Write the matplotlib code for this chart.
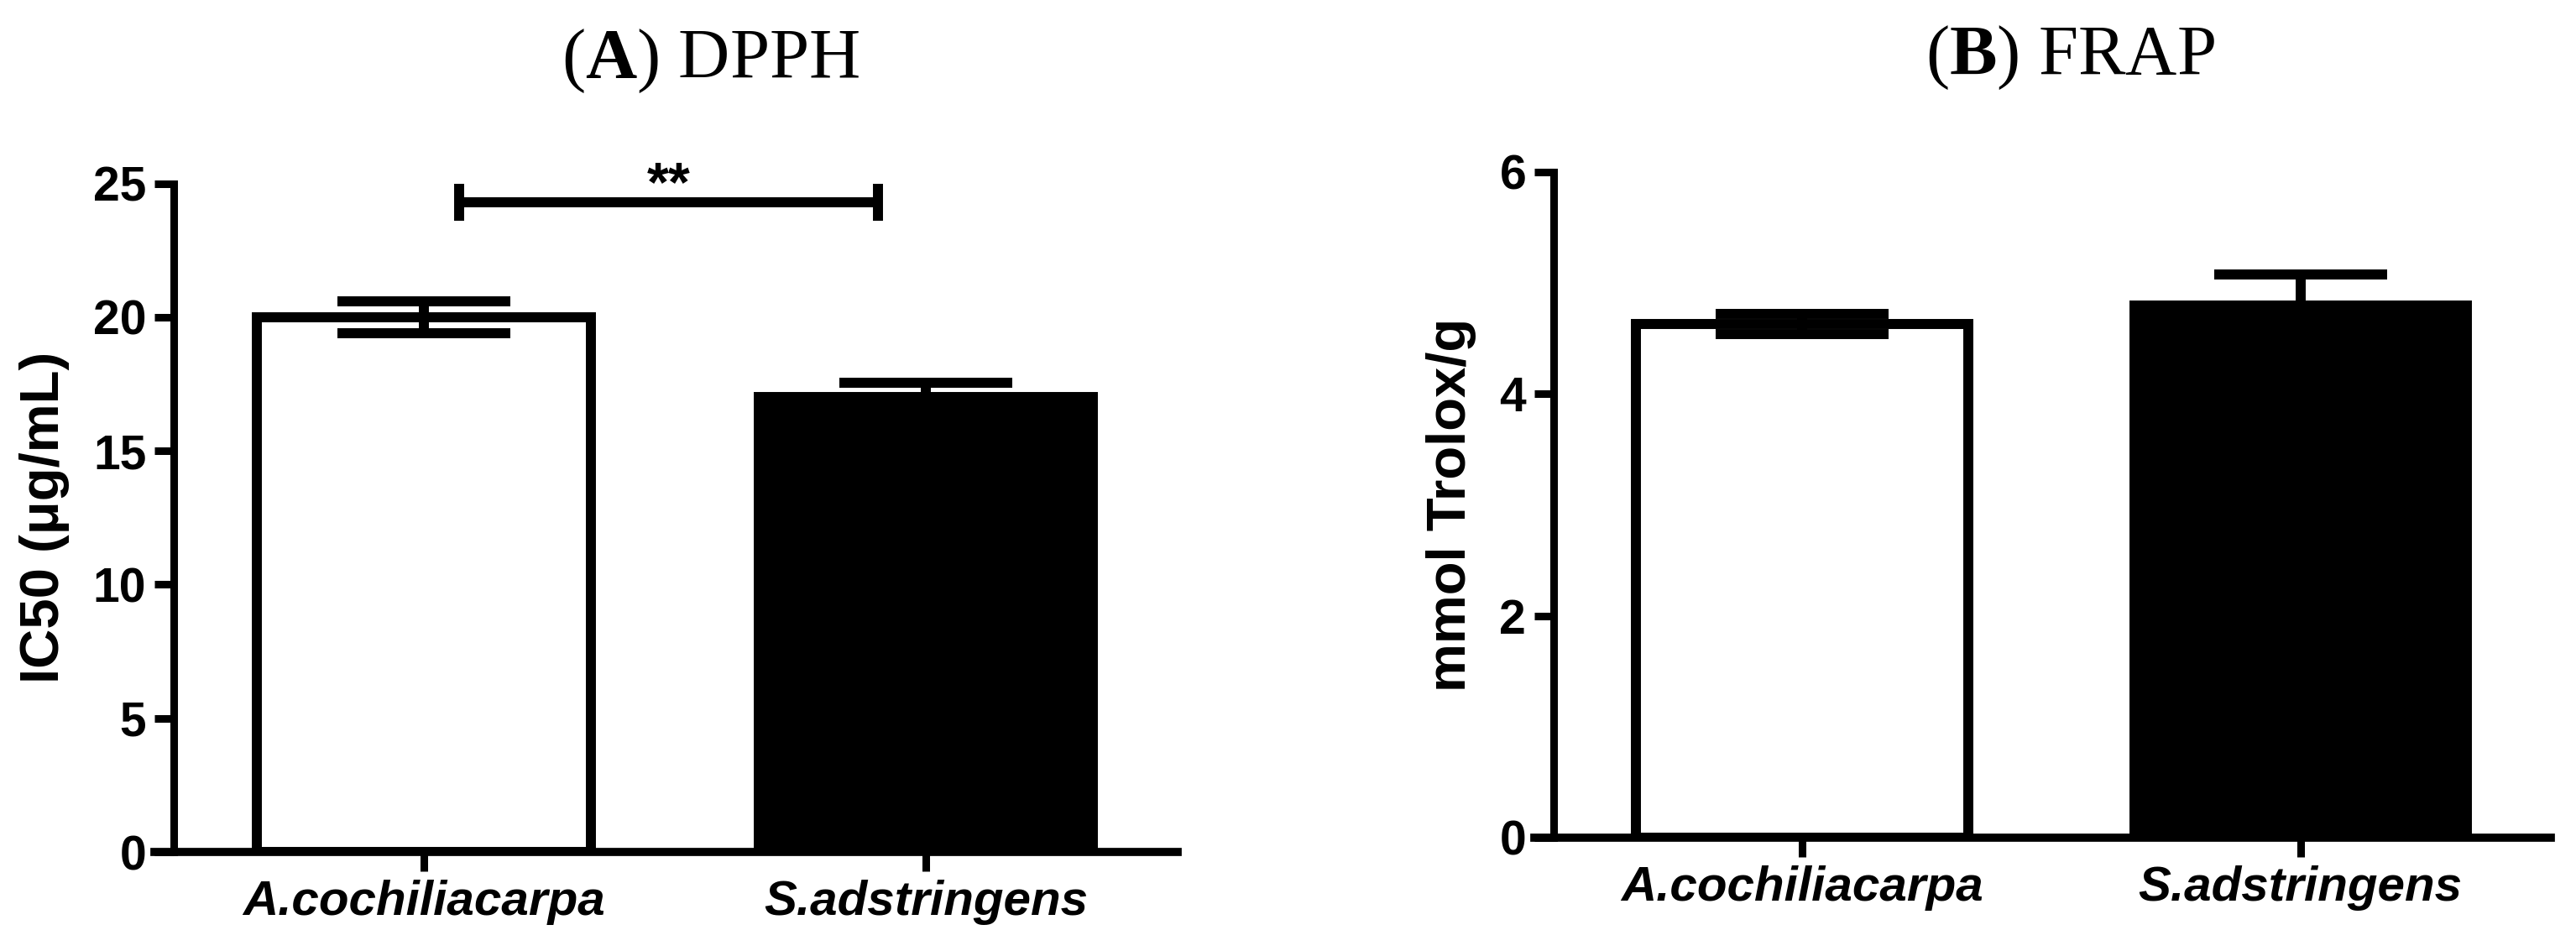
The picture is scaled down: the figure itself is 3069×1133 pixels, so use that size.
from matplotlib import pyplot as plt

# data
species = ["A.cochiliacarpa", "S.adstringens"]
bar_colors = ["white", "black"]

dpph_ic50 = [20.0, 17.0]
dpph_err = [0.6, 0.56]
dpph_ticks = [0, 5, 10, 15, 20, 25]

frap_trolox = [4.63, 4.80]
frap_err = [0.09, 0.28]
frap_ticks = [0, 2, 4, 6]

# significance bracket between the two DPPH bars
sig_x = [0.07, 0.905]
sig_y = 24.3
sig_text = "**"

plt.rcParams["font.family"] = ["Liberation Sans", "DejaVu Sans"]
plt.rcParams["font.weight"] = "bold"
plt.rcParams["axes.labelweight"] = "bold"
plt.rcParams["mathtext.fontset"] = "custom"
plt.rcParams["mathtext.rm"] = "Liberation Serif"
plt.rcParams["mathtext.bf"] = "Liberation Serif:bold"

fig = plt.figure(figsize=(30.69, 11.33), dpi=100)
ax1 = fig.add_axes([0.05995, 0.1041, 0.3972, 0.7030])
ax2 = fig.add_axes([0.5956, 0.1192, 0.3946, 0.6999])


def bar_panel(ax, values, errors, ticks, ylabel):
    x = list(range(len(species)))
    ax.bar(x, values, width=0.666, color=bar_colors, edgecolor="black",
           linewidth=8.6, zorder=2)
    ax.errorbar(x, values, yerr=errors, fmt="none", ecolor="black",
                elinewidth=8.6, capsize=74, capthick=8.6, zorder=3)
    ax.set_xlim(-0.537, 1.502)
    ax.set_ylim(ticks[0], ticks[-1])
    ax.set_yticks(ticks)
    ax.set_xticks(x)
    ax.tick_params(length=16.5, width=6.5, pad=7)
    ax.tick_params(axis="y", labelsize=41)
    ax.tick_params(axis="x", labelsize=42)
    ax.set_xticklabels(species, fontstyle="italic")
    ax.set_ylabel(ylabel, fontsize=47, fontweight="bold", labelpad=20)
    ax.spines["top"].set_visible(False)
    ax.spines["right"].set_visible(False)
    ax.spines["left"].set_position(("outward", -16.5))
    ax.spines["left"].set_linewidth(6.5)
    ax.spines["bottom"].set_linewidth(7)


bar_panel(ax1, dpph_ic50, dpph_err, dpph_ticks, "IC50 (μg/mL)")
bar_panel(ax2, frap_trolox, frap_err, frap_ticks, "mmol Trolox/g")

# bracket with asterisks
ax1.plot(sig_x, [sig_y, sig_y], color="black", lw=8.6, clip_on=False,
         solid_capstyle="butt")
for sx in sig_x:
    ax1.plot([sx, sx], [sig_y - 0.7, sig_y + 0.7], color="black", lw=8.6,
             clip_on=False, solid_capstyle="butt")
ax1.text(sum(sig_x) / 2, sig_y + 0.05, sig_text, ha="center", va="baseline",
         fontsize=48)

fig.text(0.2757, 0.9179, r"($\mathbf{A}$) DPPH", ha="center", va="baseline",
         family="Liberation Serif", weight="normal", fontsize=61)
fig.text(0.8038, 0.9214, r"($\mathbf{B}$) FRAP", ha="center", va="baseline",
         family="Liberation Serif", weight="normal", fontsize=61)

fig.savefig("out.png", dpi=100)
